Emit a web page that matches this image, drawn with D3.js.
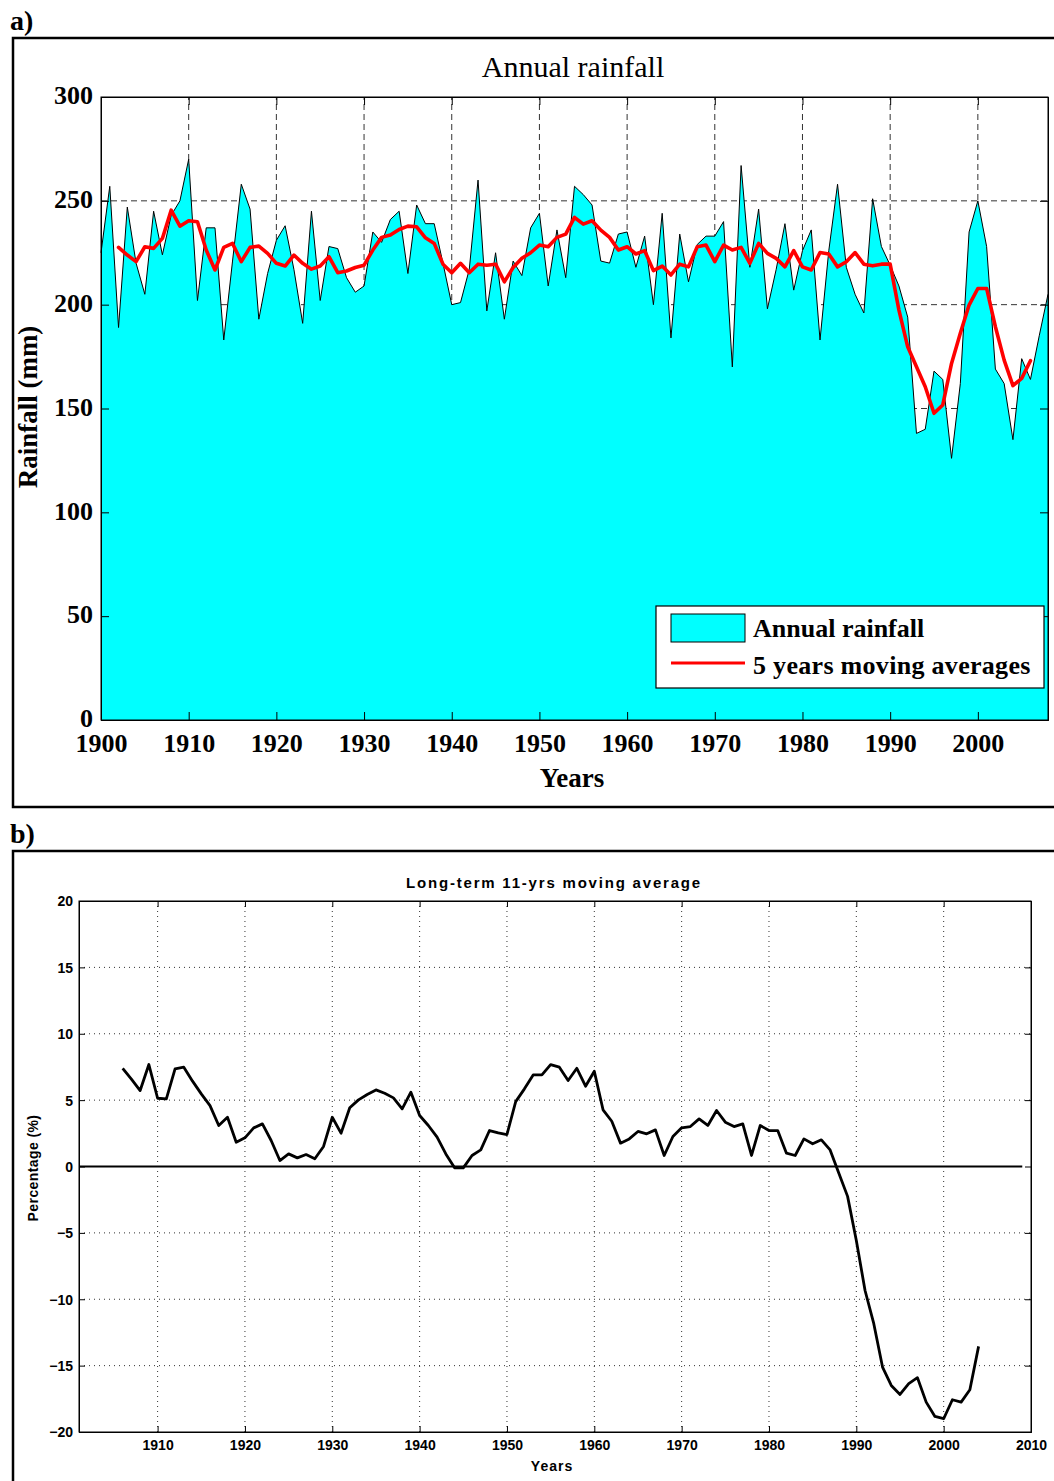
<!DOCTYPE html>
<html>
<head>
<meta charset="utf-8">
<script src="https://cdn.jsdelivr.net/npm/d3@7"></script>
<style>
  body { margin: 0; background: #fff; }
  svg { display: block; }
</style>
</head>
<body>
<svg id="chart" width="1054" height="1481"></svg>
<script>
// ---- Panel a: annual rainfall (mm), 1900-2008 ----
const rainStart = 1900;
const rainfall = [
  225, 257, 189, 247, 220, 205, 245, 224, 243, 250,   // 1900-1909
  270, 202, 237, 237, 183, 221, 258, 246, 193, 215,   // 1910-1919
  231, 238, 217, 191, 245, 202, 228, 227, 213, 206,   // 1920-1929
  209, 235, 230, 241, 245, 215, 248, 239, 239, 220,   // 1930-1939
  200, 201, 217, 260, 197, 225, 193, 221, 214, 237,   // 1940-1949
  244, 209, 236, 213, 257, 253, 248, 221, 220, 234,   // 1950-1959
  235, 218, 233, 200, 244, 184, 234, 211, 229, 233,   // 1960-1969
  233, 240, 170, 267, 218, 246, 198, 217, 239, 207,   // 1970-1979
  226, 236, 183, 226, 258, 218, 205, 196, 251, 228,   // 1980-1989
  219, 209, 194, 138, 140, 168, 164, 126, 162, 235,   // 1990-1999
  250, 228, 169, 162, 135, 174, 164, 185, 205         // 2000-2008
];

// 5-year moving average, centred, 1902-2006
const maStart = 1902;
const movingAvg5 = [
  227.6, 223.9, 220.7, 227.9, 227.1, 231.9, 245.5, 237.8,              // 1902-1909
  240.4, 239.9, 226.3, 216.7, 227.6, 229.5, 220.7, 227.6, 228.2, 224.7, // 1910-1919
  219.9, 218.6, 223.9, 219.9, 217.1, 218.6, 223.1, 215.4, 216.2, 217.9, // 1920-1929
  219.0, 226.3, 232.4, 233.5, 236.2, 237.8, 237.5, 232.2, 229.5, 219.5, // 1930-1939
  215.4, 219.9, 215.4, 219.5, 219.0, 219.5, 211.0, 217.9, 222.3, 225.0, // 1940-1949
  228.7, 227.9, 232.4, 234.0, 242.0, 238.8, 240.4, 235.9, 232.4, 226.3, // 1950-1959
  227.9, 224.4, 226.0, 216.4, 218.6, 214.3, 219.5, 218.2, 227.9, 228.7, // 1960-1969
  220.7, 228.7, 226.3, 227.6, 219.9, 229.5, 224.7, 222.3, 218.2, 226.0, // 1970-1979
  218.2, 216.7, 225.1, 224.4, 218.2, 220.7, 225.1, 219.5, 218.7, 219.5, // 1980-1989
  219.5, 197.4, 179.7, 170.1, 160.5, 147.7, 151.7, 171.7, 186.2, 199.8, // 1990-1999
  207.8, 207.8, 189.4, 173.3, 161.0, 164.5, 173.0                       // 2000-2006
];

const yearTicksA = [1900, 1910, 1920, 1930, 1940, 1950, 1960, 1970, 1980, 1990, 2000];
const rainTicks = [0, 50, 100, 150, 200, 250, 300];

// ---- Panel b: long-term 11-year moving average, departure (%) ----
const pctStart = 1906;
const pctAvg11 = [
  7.40, 6.58, 5.72, 7.68,                                            // 1906-1909
  5.14, 5.10, 7.35, 7.48, 6.43, 5.47, 4.59, 3.09, 3.71, 1.83,        // 1910-1919
  2.16, 2.91, 3.21, 1.96, 0.45, 0.95, 0.65, 0.90, 0.58, 1.51,        // 1920-1929
  3.71, 2.51, 4.42, 5.02, 5.42, 5.77, 5.52, 5.17, 4.34, 5.60,        // 1930-1939
  3.84, 3.09, 2.21, 0.95, -0.10, -0.10, 0.83, 1.25, 2.71, 2.53,      // 1940-1949
  2.41, 4.89, 5.85, 6.90, 6.90, 7.68, 7.48, 6.48, 7.40, 6.05,        // 1950-1959
  7.18, 4.27, 3.41, 1.76, 2.08, 2.64, 2.46, 2.76, 0.83, 2.26,        // 1960-1969
  2.91, 3.01, 3.59, 3.09, 4.22, 3.34, 3.01, 3.21, 0.83, 3.09,        // 1970-1979
  2.71, 2.71, 1.00, 0.83, 2.08, 1.71, 2.01, 1.25, -0.50, -2.25,      // 1980-1989
  -5.57, -9.34, -11.84, -15.11, -16.49, -17.17, -16.36, -15.91, -17.75, -18.83, // 1990-1999
  -19.00, -17.57, -17.75, -16.82, -13.55                             // 2000-2004
];

const yearTicksB = [1910, 1920, 1930, 1940, 1950, 1960, 1970, 1980, 1990, 2000, 2010];
const pctTicks = [-20, -15, -10, -5, 0, 5, 10, 15, 20];

const serif = '"Liberation Serif", "Times New Roman", serif';
const sans = '"Liberation Sans", Arial, Helvetica, sans-serif';
const plain = d3.format('d');

const svg = d3.select('#chart');

// =================== Panel a ===================
const xA = d3.scaleLinear().domain([1900, 2008]).range([101, 1048]);
const yA = d3.scaleLinear().domain([0, 300]).range([720, 97]);

svg.append('rect')
  .attr('x', 13).attr('y', 38).attr('width', 1100).attr('height', 769)
  .attr('fill', 'none').attr('stroke', '#000').attr('stroke-width', 2.5);

svg.append('text')
  .attr('x', 10).attr('y', 30)
  .attr('font-family', serif).attr('font-weight', 'bold').attr('font-size', 28)
  .text('a)');

const gA = svg.append('g');

// dashed grid (underneath the filled area)
gA.append('g').selectAll('line')
  .data(yearTicksA.filter(d => d !== 1900))
  .join('line')
  .attr('x1', d => xA(d)).attr('x2', d => xA(d))
  .attr('y1', yA(0)).attr('y2', yA(300))
  .attr('stroke', '#333').attr('stroke-width', 1).attr('stroke-dasharray', '6,4');
gA.append('g').selectAll('line')
  .data(rainTicks.filter(d => d !== 0 && d !== 300))
  .join('line')
  .attr('x1', xA(1900)).attr('x2', xA(2008))
  .attr('y1', d => yA(d)).attr('y2', d => yA(d))
  .attr('stroke', '#333').attr('stroke-width', 1).attr('stroke-dasharray', '6,4');

const rainPts = rainfall.map((v, i) => ({ year: rainStart + i, v }));
const maPts = movingAvg5.map((v, i) => ({ year: maStart + i, v }));

gA.append('path')
  .datum(rainPts)
  .attr('d', d3.area().x(d => xA(d.year)).y0(yA(0)).y1(d => yA(d.v)))
  .attr('fill', '#00FFFF');

gA.append('path')
  .datum(rainPts)
  .attr('d', d3.line().x(d => xA(d.year)).y(d => yA(d.v)))
  .attr('fill', 'none').attr('stroke', '#000').attr('stroke-width', 1);

gA.append('path')
  .datum(maPts)
  .attr('d', d3.line().x(d => xA(d.year)).y(d => yA(d.v)))
  .attr('fill', 'none').attr('stroke', '#FF0000').attr('stroke-width', 3.6)
  .attr('stroke-linejoin', 'round').attr('stroke-linecap', 'round');

// axes box
gA.append('rect')
  .attr('x', xA(1900)).attr('y', yA(300))
  .attr('width', xA(2008) - xA(1900)).attr('height', yA(0) - yA(300))
  .attr('fill', 'none').attr('stroke', '#000').attr('stroke-width', 1);

const axLeftA = gA.append('g').attr('transform', `translate(${xA(1900)},0)`)
  .call(d3.axisLeft(yA).tickValues(rainTicks).tickFormat(plain).tickSize(-8).tickPadding(8));
const axBotA = gA.append('g').attr('transform', `translate(0,${yA(0)})`)
  .call(d3.axisBottom(xA).tickValues(yearTicksA).tickFormat(plain).tickSize(-8).tickPadding(14));
gA.append('g').attr('transform', `translate(${xA(2008)},0)`)
  .call(d3.axisRight(yA).tickValues(rainTicks).tickSize(-8).tickFormat(''));
gA.append('g').attr('transform', `translate(0,${yA(300)})`)
  .call(d3.axisTop(xA).tickValues(yearTicksA).tickSize(-8).tickFormat(''));

[axLeftA, axBotA].forEach(ax => {
  ax.selectAll('text')
    .attr('font-family', serif).attr('font-weight', 'bold').attr('font-size', 26)
    .attr('fill', '#000');
});
gA.selectAll('.domain').attr('stroke', '#000');
gA.selectAll('.tick line').attr('stroke', '#000');
axLeftA.selectAll('text').attr('dy', '0.26em');

svg.append('text')
  .attr('x', 573).attr('y', 77).attr('text-anchor', 'middle')
  .attr('font-family', serif).attr('font-size', 30)
  .text('Annual rainfall');

svg.append('text')
  .attr('x', 572).attr('y', 787).attr('text-anchor', 'middle')
  .attr('font-family', serif).attr('font-weight', 'bold').attr('font-size', 27)
  .text('Years');

svg.append('text')
  .attr('transform', 'translate(37,407) rotate(-90)')
  .attr('text-anchor', 'middle')
  .attr('font-family', serif).attr('font-weight', 'bold').attr('font-size', 27)
  .text('Rainfall (mm)');

// legend
const leg = svg.append('g');
leg.append('rect')
  .attr('x', 656).attr('y', 606).attr('width', 388).attr('height', 82)
  .attr('fill', '#fff').attr('stroke', '#000').attr('stroke-width', 1.2);
leg.append('rect')
  .attr('x', 671).attr('y', 614).attr('width', 74).attr('height', 28)
  .attr('fill', '#00FFFF').attr('stroke', '#000').attr('stroke-width', 1);
leg.append('line')
  .attr('x1', 671).attr('x2', 745).attr('y1', 663).attr('y2', 663)
  .attr('stroke', '#FF0000').attr('stroke-width', 3);
leg.append('text')
  .attr('x', 753).attr('y', 637)
  .attr('font-family', serif).attr('font-weight', 'bold').attr('font-size', 26)
  .text('Annual rainfall');
leg.append('text')
  .attr('x', 753).attr('y', 674)
  .attr('font-family', serif).attr('font-weight', 'bold').attr('font-size', 26)
  .attr('letter-spacing', 0.3)
  .text('5 years moving averages');

// =================== Panel b ===================
const xB = d3.scaleLinear().domain([1901, 2010]).range([79, 1031]);
const yB = d3.scaleLinear().domain([-20, 20]).range([1432, 901]);

svg.append('rect')
  .attr('x', 13).attr('y', 851).attr('width', 1100).attr('height', 700)
  .attr('fill', 'none').attr('stroke', '#000').attr('stroke-width', 2.5);

svg.append('text')
  .attr('x', 10).attr('y', 843)
  .attr('font-family', serif).attr('font-weight', 'bold').attr('font-size', 28)
  .text('b)');

const gB = svg.append('g');

// dotted grid
gB.append('g').selectAll('line')
  .data(yearTicksB.filter(d => d !== 2010))
  .join('line')
  .attr('x1', d => xB(d)).attr('x2', d => xB(d))
  .attr('y1', yB(-20)).attr('y2', yB(20))
  .attr('stroke', '#333').attr('stroke-width', 1).attr('stroke-dasharray', '1,4');
gB.append('g').selectAll('line')
  .data(pctTicks.filter(d => Math.abs(d) !== 20 && d !== 0))
  .join('line')
  .attr('x1', xB(1901)).attr('x2', xB(2010))
  .attr('y1', d => yB(d)).attr('y2', d => yB(d))
  .attr('stroke', '#333').attr('stroke-width', 1).attr('stroke-dasharray', '1,4');

// zero reference line
gB.append('line')
  .attr('x1', xB(1901)).attr('x2', xB(2009))
  .attr('y1', yB(0)).attr('y2', yB(0))
  .attr('stroke', '#000').attr('stroke-width', 2);

const pctPts = pctAvg11.map((v, i) => ({ year: pctStart + i, v }));
gB.append('path')
  .datum(pctPts)
  .attr('d', d3.line().x(d => xB(d.year)).y(d => yB(d.v)))
  .attr('fill', 'none').attr('stroke', '#000').attr('stroke-width', 2.8)
  .attr('stroke-linejoin', 'round');

gB.append('rect')
  .attr('x', xB(1901)).attr('y', yB(20))
  .attr('width', xB(2010) - xB(1901)).attr('height', yB(-20) - yB(20))
  .attr('fill', 'none').attr('stroke', '#000').attr('stroke-width', 1);

const axLeftB = gB.append('g').attr('transform', `translate(${xB(1901)},0)`)
  .call(d3.axisLeft(yB).tickValues(pctTicks).tickFormat(plain).tickSize(-6).tickPadding(6));
const axBotB = gB.append('g').attr('transform', `translate(0,${yB(-20)})`)
  .call(d3.axisBottom(xB).tickValues(yearTicksB).tickFormat(plain).tickSize(-6).tickPadding(8));
gB.append('g').attr('transform', `translate(${xB(2010)},0)`)
  .call(d3.axisRight(yB).tickValues(pctTicks).tickSize(-6).tickFormat(''));
gB.append('g').attr('transform', `translate(0,${yB(20)})`)
  .call(d3.axisTop(xB).tickValues(yearTicksB).tickSize(-6).tickFormat(''));

[axLeftB, axBotB].forEach(ax => {
  ax.selectAll('text')
    .attr('font-family', sans).attr('font-weight', 'bold').attr('font-size', 14)
    .attr('fill', '#000');
});
axLeftB.selectAll('text').attr('dy', '0.35em');
gB.selectAll('.domain').attr('stroke', '#000');
gB.selectAll('.tick line').attr('stroke', '#000');

svg.append('text')
  .attr('x', 554).attr('y', 888).attr('text-anchor', 'middle')
  .attr('font-family', sans).attr('font-weight', 'bold').attr('font-size', 15)
  .attr('letter-spacing', 1.8)
  .text('Long-term 11-yrs moving average');

svg.append('text')
  .attr('x', 552).attr('y', 1471).attr('text-anchor', 'middle')
  .attr('font-family', sans).attr('font-weight', 'bold').attr('font-size', 14)
  .attr('letter-spacing', 1)
  .text('Years');

svg.append('text')
  .attr('transform', 'translate(38,1168) rotate(-90)')
  .attr('text-anchor', 'middle')
  .attr('font-family', sans).attr('font-weight', 'bold').attr('font-size', 14)
  .attr('letter-spacing', 0.4)
  .text('Percentage (%)');
</script>
</body>
</html>
